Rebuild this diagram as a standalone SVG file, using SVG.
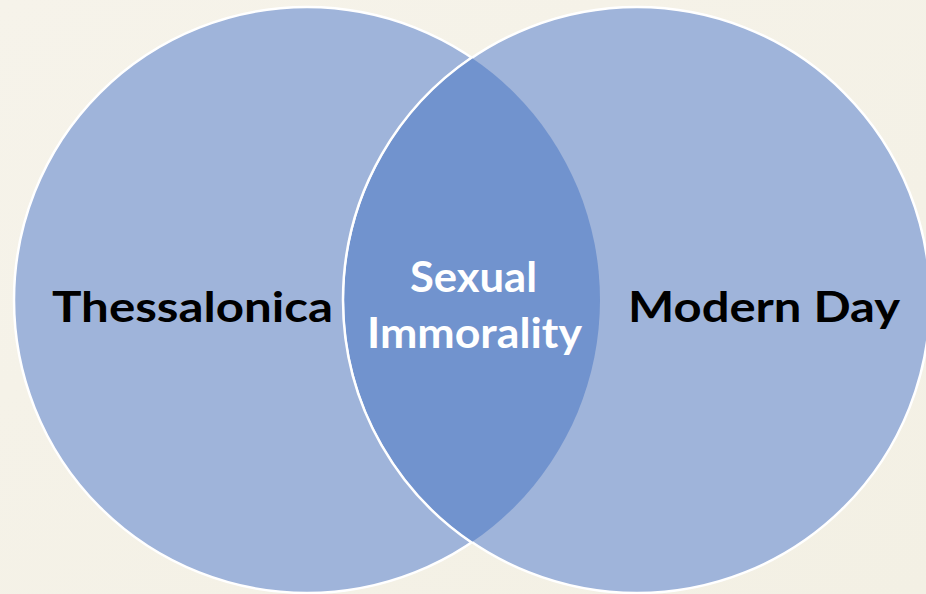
<svg xmlns="http://www.w3.org/2000/svg" width="926" height="594" viewBox="0 0 926 594">
  <defs>
    <style>
      .circle { fill: #9FB4DA; stroke: #FFFFFF; stroke-width: 2.5; }
      .lens { fill: #7193CE; }
      .lbl { font-family: Lato, "Open Sans", "Liberation Sans", sans-serif; font-weight: bold; font-size: 42px; }
      .dark { fill: #000000; }
      .light { fill: #FFFFFF; }
    </style>
    <clipPath id="clipLeft">
      <circle cx="307" cy="300" r="293"/>
    </clipPath>
    <linearGradient id="bg" x1="0" y1="0" x2="1" y2="1">
      <stop offset="0" stop-color="#F6F3EA"/>
      <stop offset="1" stop-color="#F3F0E4"/>
    </linearGradient>
  </defs>
  <rect x="0" y="0" width="926" height="594" fill="url(#bg)"/>
  <g id="node-thessalonica">
    <circle class="circle" cx="307" cy="300" r="293"/>
  </g>
  <g id="node-modern-day">
    <circle class="circle" cx="637" cy="300" r="293"/>
  </g>
  <g id="node-overlap">
    <circle class="lens" cx="637" cy="300" r="293" clip-path="url(#clipLeft)"/>
    <path d="M472,57.2 A293,293 0 0 0 472,542.8" fill="none" stroke="#FFFFFF" stroke-width="2.5"/>
  </g>
  <g id="connectors"></g>
  <g id="labels">
    <text class="lbl dark" x="52" y="322" textLength="281" lengthAdjust="spacingAndGlyphs">Thessalonica</text>
    <text class="lbl dark" x="628" y="322" textLength="272" lengthAdjust="spacingAndGlyphs">Modern Day</text>
    <text class="lbl light" x="410" y="292" textLength="127" lengthAdjust="spacingAndGlyphs">Sexual</text>
    <text class="lbl light" x="367" y="348" textLength="215" lengthAdjust="spacingAndGlyphs">Immorality</text>
  </g>
</svg>
